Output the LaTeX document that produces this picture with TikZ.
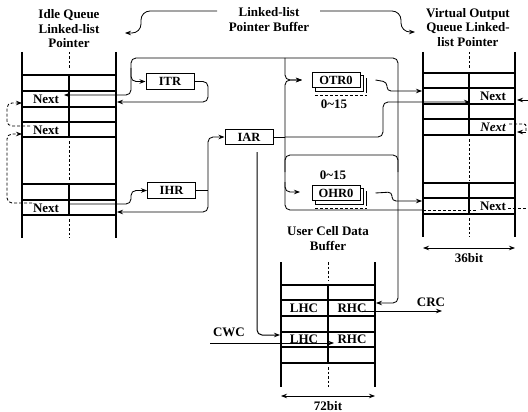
\documentclass[tikz,border=0pt]{standalone}
\usepackage{fontspec}
\setmainfont{Liberation Serif}
\usetikzlibrary{arrows.meta}
\begin{document}
\begin{tikzpicture}[x=1pt,y=-1pt,
  txt/.style={font=\fontsize{13}{14.5}\selectfont\bfseries, align=center, inner sep=0pt},
  celltxt/.style={font=\fontsize{13}{13}\selectfont\bfseries, inner sep=0pt},
  reg/.style={draw, line width=1pt, fill=white, minimum width=48pt, minimum height=15.5pt, inner sep=0pt, font=\fontsize{12.5}{12.5}\selectfont\bfseries},
  tbl/.style={line width=1.1pt},
  ctr/.style={line width=1pt, dash pattern=on 2.5pt off 2pt},
  wire/.style={line width=0.85pt, rounded corners=5pt},
  arr/.style={-{Stealth[length=6pt,width=4.5pt]}},
  barr/.style={{Stealth[length=6pt,width=4.5pt]}-{Stealth[length=6pt,width=4.5pt]}},
  dwire/.style={wire, dash pattern=on 3pt off 2pt},
  stk/.style={line width=0.9pt}
]
\useasboundingbox (0,0) rectangle (528,412);

% ---------- titles ----------
\node[txt] (lblIdle) at (69,29) {Idle Queue\\Linked-list\\Pointer};
\node[txt] (lblBuf) at (269,19.5) {Linked-list\\Pointer Buffer};
\node[txt] (lblVOQ) at (468,27.5) {Virtual Output\\Queue Linked-\\list Pointer};
\coordinate (bL) at (217,11); \coordinate (bLt) at (125,33);
\coordinate (bR) at (320,11); \coordinate (bRt) at (415,32);
\draw[wire,arr,rounded corners=9pt] (bL) -- (141,11) -- (141,33) -- (bLt);
\draw[wire,arr,rounded corners=9pt] (bR) -- (401,11) -- (401,32) -- (bRt);

% ---------- idle queue table ----------
\draw[tbl] (22,52) -- (22,238) (116,52) -- (116,238);
\foreach \y in {75,91,107,122,137,184,200,215} \draw[tbl] (22,\y) -- (116,\y);
\draw[tbl] (69,75) -- (69,137) (69,184) -- (69,215);
\draw[ctr] (69,52) -- (69,69) (69,141) -- (69,181) (69,219) -- (69,238);
\node[celltxt] (iN1) at (46,99) {Next};
\node[celltxt] (iN2) at (46,130) {Next};
\node[celltxt] (iN3) at (46,208) {Next};

% ---------- VOQ table ----------
\draw[tbl] (423,52) -- (423,237) (515,52) -- (515,237);
\foreach \y in {73,88,104,119,135,183,198,214} \draw[tbl] (423,\y) -- (515,\y);
\draw[tbl] (469,73) -- (469,135) (469,183) -- (469,214);
\draw[ctr] (469,52) -- (469,68) (469,139) -- (469,180) (469,218) -- (469,237);
\node[celltxt] (vN1) at (493,96) {Next};
\node[celltxt, font=\fontsize{13}{13}\selectfont\bfseries\itshape] (vN2) at (493,127) {Next};
\node[celltxt] (vN3) at (493,206) {Next};
\draw[barr, line width=0.85pt] (423,248) -- (515,248);
\node[txt] (b36) at (469,258) {36bit};

% ---------- user cell data buffer ----------
\node[txt] (lblUC) at (328,238.5) {User Cell Data\\Buffer};
\draw[tbl] (281,262) -- (281,387) (375,262) -- (375,387);
\foreach \y in {285,300,316,332,347,363} \draw[tbl] (281,\y) -- (375,\y);
\draw[tbl] (328,285) -- (328,363);
\draw[ctr] (328,262) -- (328,281) (328,367) -- (328,387);
\node[celltxt] (L1) at (304,308) {LHC};
\node[celltxt] (R1) at (352,308) {RHC};
\node[celltxt] (L2) at (304,339.5) {LHC};
\node[celltxt] (R2) at (352,339.5) {RHC};
\draw[barr, line width=0.85pt] (281,396) -- (375,396);
\node[txt] (b72) at (328,406) {72bit};

% ---------- registers ----------
\node[reg] (ITR) at (170,81.5) {ITR};
\node[reg] (IAR) at (249,137) {IAR};
\node[reg] (IHR) at (171.5,190.5) {IHR};

\draw[stk, dash pattern=on 3pt off 2pt] (315,95.5) -- (367,95.5);
\draw[stk] (366,78) -- (366,93);
\draw[stk, fill=white] (315,75) rectangle (363,91);
\node[reg] (OTR) at (336,80) {OTR0};
\node[txt] (OTRr) at (334,104) {0\textasciitilde 15};

\draw[stk, dash pattern=on 3pt off 2pt] (315,208) -- (367,208);
\draw[stk] (366,191) -- (366,206);
\draw[stk, fill=white] (315,188) rectangle (363,204);
\node[reg] (OHR) at (336,193) {OHR0};
\node[txt] (OHRr) at (333,175) {0\textasciitilde 15};

% ---------- named points ----------
\coordinate (iN1a) at (64,95);
\coordinate (jL) at (131,58);
\coordinate (jR) at (398,58);
\coordinate (ucR) at (376,303);
\coordinate (jO) at (285,58);
\coordinate (jI) at (285,137);
\coordinate (OTRin) at (302,80);
\coordinate (OHRin) at (300,192);
\coordinate (vN1a) at (470,102);
\coordinate (vL1) at (422,91);
\coordinate (vL3) at (422,201);
\coordinate (iR1) at (117,102);
\coordinate (iR3) at (117,212);
\coordinate (iN3a) at (70,204);
\coordinate (jH) at (208,190.5);
\coordinate (ucL) at (280,335);
\coordinate (cwcS) at (210,343);
\coordinate (cwcE) at (334,343);

% ---------- connectors ----------
% top bus: idle Next <-> buffer RHC
\draw[wire,barr] (iN1a) -- (131,95) -- (jL) -- (jR) -- (398,303) -- (ucR);
\draw[wire,arr] (131,68) |- (ITR.west);
\draw[wire,arr] (jO) |- (OTRin);
% IAR outputs
\draw[wire] (IAR.east) -- (jI);
\draw[wire,arr] (jI) |- (OTRin);
\draw[wire,arr] (jI) |- (OHRin);
\draw[wire,arr] (jI) -- (383,137) -- (383,102) -- (vN1a);
\draw[wire] (285,172) -- (285,155) -- (398,155) -- (398,172);
\draw[wire] (285,182) -- (285,210) -- (423,210);
\draw[dwire] (423,210) -- (477,210);
% OTR / OHR outputs
\draw[wire,arr,rounded corners=4pt] ([xshift=15pt]OTR.east) -- (387,82) -- (387,91) -- (vL1);
\draw[wire,arr,rounded corners=4pt] ([xshift=15pt]OHR.east) -- (392,192) -- (392,201) -- (vL3);
% ITR
\draw[wire,arr] (ITR.east) -- (208,81.5) -- (208,102) -- (iR1);
% IHR
\draw[wire,arr] (iN3a) -- (131,204) -- (131,190.5) -- (IHR.west);
\draw[wire] (IHR.east) -- (jH);
\draw[wire,arr] (jH) |- (IAR.west);
\draw[wire,arr] (jH) |- (iR3);
% IAR to user cell buffer
\draw[wire,arr,line width=1pt] (257,152) -- (257,335) -- (ucL);
% CWC / CRC
\node[txt] (CWC) at (229,332) {CWC};
\draw[wire,arr] (cwcS) -- (cwcE);
\node[txt] (CRC) at (431,302) {CRC};
\draw[wire,arr] (362,311) -- (442,311);

% idle queue linked-list (dashed)
\draw[dwire,arr] (30,126) -- (7,126) -- (7,103) -- (22,103);
\draw[dwire,arr] (32,203) -- (7,203) -- (7,134) -- (22,134);

% VOQ right side
\draw[wire,arr] (528,100) -- (517,100);
\draw[dwire,rounded corners=2pt] (509,124) -- (526,124) -- (526,132);
\draw[wire,arr] (526,132) -- (517,132);
\draw[dwire] (508,208) -- (528,208);
\end{tikzpicture}
\end{document}
